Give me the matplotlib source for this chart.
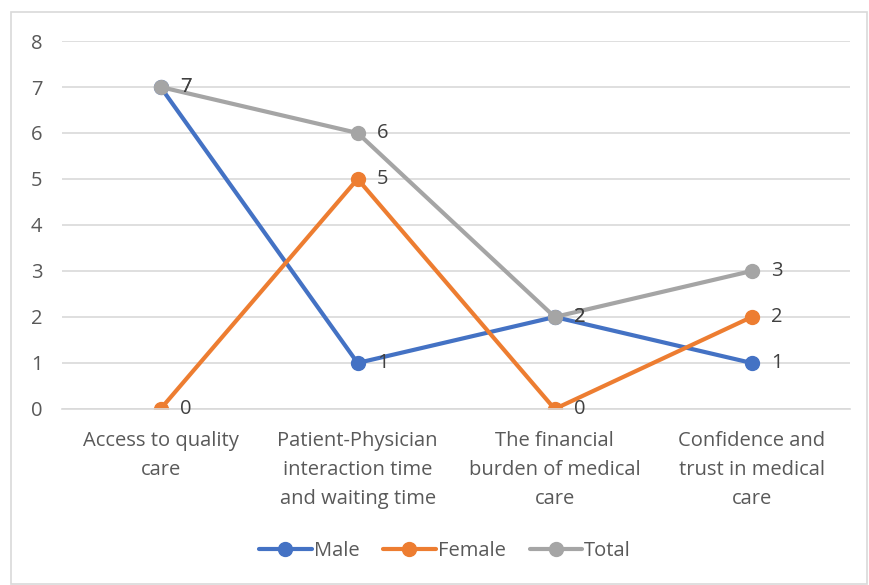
import matplotlib.pyplot as plt
from matplotlib.patches import Rectangle

categories = ["Access to quality\ncare",
              "Patient-Physician\ninteraction time\nand waiting time",
              "The financial\nburden of medical\ncare",
              "Confidence and\ntrust in medical\ncare"]
male = [7, 1, 2, 1]
female = [0, 5, 0, 2]
total = [7, 6, 2, 3]

plt.rcParams['font.family'] = ['Open Sans', 'DejaVu Sans']
text_col = '#595959'
fs = 14.5

fig = plt.figure(figsize=(8.7, 5.85), dpi=100)
ax = fig.add_axes([0.0713, 0.3009, 0.906, 0.629])

# chart border
fig.patches.append(Rectangle((11 / 870, 1 / 585), 856 / 870, 572 / 585,
                             transform=fig.transFigure, fill=False,
                             edgecolor='#d9d9d9', linewidth=1.2))

x = range(len(categories))
series = [("Male", male, '#4472C4'), ("Female", female, '#ED7D31'),
          ("Total", total, '#A5A5A5')]
for name, vals, col in series:
    ax.plot(x, vals, color=col, linewidth=3, marker='o', markersize=10,
            label=name, solid_capstyle='round')
    for xi, v in zip(x, vals):
        ax.annotate(str(v), (xi, v), xytext=(14, 0), textcoords='offset points',
                    va='center', ha='left', fontsize=fs, color='#404040')

ax.set_xlim(-0.5, 3.5)
ax.set_ylim(0, 8)
ax.set_yticks(range(9))
ax.yaxis.grid(True, color='#d9d9d9', linewidth=1.2)
ax.set_axisbelow(True)
for s in ['top', 'right', 'left']:
    ax.spines[s].set_visible(False)
ax.spines['bottom'].set_color('#d9d9d9')
ax.spines['bottom'].set_linewidth(1.2)
ax.set_xticks(list(x))
ax.set_xticklabels(categories, fontsize=fs, color=text_col, linespacing=1.58)
ax.tick_params(axis='x', length=0, pad=16)
ax.tick_params(axis='y', length=0, pad=14, labelsize=fs, labelcolor=text_col)

ax.legend(loc='center', bbox_to_anchor=(445 / 870, 1 - 551 / 585),
          bbox_transform=fig.transFigure, ncol=3, frameon=False,
          fontsize=fs, labelcolor=text_col, handlelength=2.6,
          columnspacing=1.2, handletextpad=0.1)

fig.savefig('out.png', dpi=100)
